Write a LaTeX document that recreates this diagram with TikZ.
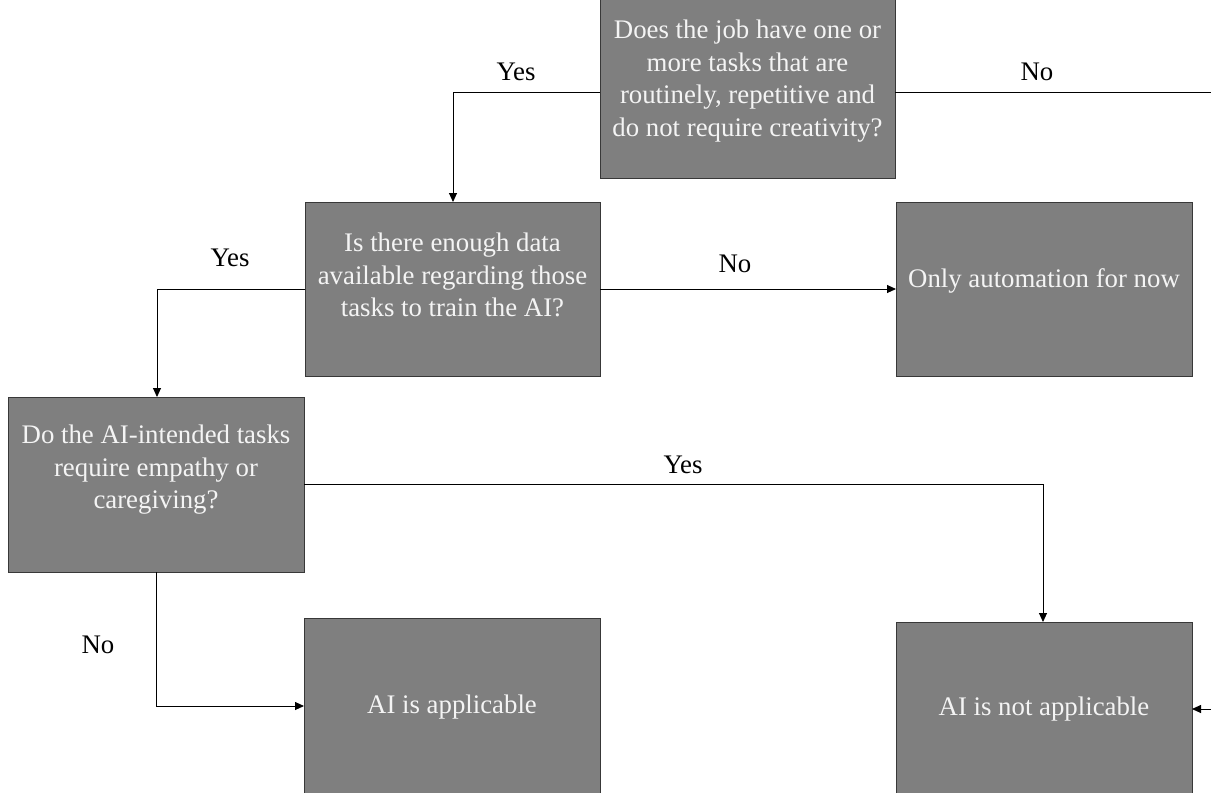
\documentclass[tikz,border=0pt]{standalone}
\usepackage{fontspec}
\setmainfont{Liberation Serif}
\usetikzlibrary{arrows.meta}
\definecolor{boxfill}{HTML}{7F7F7F}
\definecolor{boxline}{HTML}{383838}
\definecolor{boxtext}{HTML}{F4F4F4}
\begin{document}
\begin{tikzpicture}[x=1pt,y=-1pt,
  box/.style={draw=boxline,fill=boxfill,line width=1pt,inner sep=0pt,outer sep=0pt,
    minimum width=#1,minimum height=174pt},
  box/.default=295pt,
  boxtxt/.style={text=boxtext,align=center,inner sep=0pt,
    font=\fontsize{26.8}{32.5}\selectfont},
  lbl/.style={text=black,inner sep=0pt,font=\fontsize{26.8}{32.5}\selectfont},
  conn/.style={draw=black,line width=0.9pt},
  arr/.style={conn,-{Triangle[length=9pt,width=8pt]}}
]
\useasboundingbox (0,0) rectangle (1211,793);
\fill[white] (0,0) rectangle (1211,793);

% boxes
\node[box, minimum height=200pt] (q1) at (747.5,78) {};
\node[box] (q2) at (452.5,289) {};
\node[box, minimum width=296pt] (q3) at (1044,289) {};
\node[box, minimum width=296pt, minimum height=175pt] (q4) at (156,484.5) {};
\node[box, minimum width=296pt, minimum height=176pt] (q5) at (452,706) {};
\node[box, minimum width=296pt] (q6) at (1044,709) {};

% texts
\node[boxtxt] (t1) at (747.5,81) {Does the job have one or\\more tasks that are\\routinely, repetitive and\\do not require creativity?};
\node[boxtxt] (t2) at (452.5,275) {Is there enough data\\available regarding those\\tasks to train the AI?};
\node[boxtxt] (t3) at (1044,281) {Only automation for now};
\node[boxtxt] (t4) at (156,470) {Do the AI-intended tasks\\require empathy or\\caregiving?};
\node[boxtxt] (t5) at (452,707) {AI is applicable};
\node[boxtxt] (t6) at (1044,709) {AI is not applicable};

% helper coordinates
\coordinate (c1) at (453,92);
\coordinate (c2) at (1213,92);
\coordinate (c3) at (1213,709);
\coordinate (c4) at (157,289);
\coordinate (c5) at (1043,484.5);
\coordinate (c6) at (156,706);

% connectors
\draw[arr] (q1.west |- c1) -- (c1) -- (q2.north -| c1);
\draw[arr] (q1.east |- c2) -- (c2) -- (c3) -- (q6.east);
\draw[arr] (q2.west) -- (c4) -- (q4.north -| c4);
\draw[arr] (q2.east) -- (q3.west);
\draw[arr] (q4.east) -- (c5) -- (q6.north -| c5);
\draw[arr] (q4.south) -- (c6) -- (q5.west |- c6);

% labels
\node[lbl] (l1) at (516,72) {Yes};
\node[lbl] (l2) at (1037,72) {No};
\node[lbl] (l3) at (230,258) {Yes};
\node[lbl] (l4) at (735,264) {No};
\node[lbl] (l5) at (683,465) {Yes};
\node[lbl] (l6) at (98,645) {No};
\end{tikzpicture}
\end{document}
